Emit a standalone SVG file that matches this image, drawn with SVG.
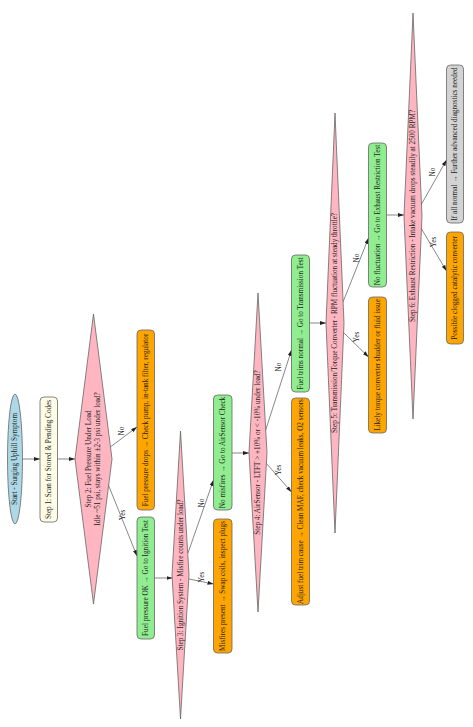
<svg xmlns="http://www.w3.org/2000/svg" width="473" height="727" viewBox="0 0 473 727">
<defs>
<marker id="arr" markerWidth="6" markerHeight="4" refX="6" refY="2" orient="auto" markerUnits="userSpaceOnUse"><path d="M0,0 L6,2 L0,4 Z" fill="#222"/></marker>
</defs>
<style>
text{font-family:"Liberation Serif","Times New Roman",serif;font-size:7.2px;fill:#222;text-anchor:middle;dominant-baseline:central}
.n{stroke:#666;stroke-width:0.8}
.start{fill:#add8e6}
.scan{fill:#fffde6}
.dec{fill:#ffb6c1}
.ok{fill:#90ee90}
.bad{fill:#ffa500}
.end{fill:#d3d3d3}
.e{stroke:#555;stroke-width:0.7;fill:none;marker-end:url(#arr)}
</style>
<rect width="473" height="727" fill="#fff"/>
<g id="connectors">
<path class="e" d="M22.5,459 L40,459"/>
<path class="e" d="M57.5,459 L75,459"/>
<path class="e" d="M109,448 L137,427"/>
<path class="e" d="M108,484 L137,556"/>
<path class="e" d="M154.5,578 L172.5,578"/>
<path class="e" d="M188,553 L213.5,480"/>
<path class="e" d="M189,579 L213.5,584"/>
<path class="e" d="M232,453 L249,453"/>
<path class="e" d="M265,432 L291.5,350"/>
<path class="e" d="M266,463 L291.5,492"/>
<path class="e" d="M309.5,323 L326,323"/>
<path class="e" d="M343,302 L368.5,238"/>
<path class="e" d="M343,332 L368.5,357"/>
<path class="e" d="M386.5,215 L404,215"/>
<path class="e" d="M421,205 L446.5,160"/>
<path class="e" d="M421,228 L446.5,271"/>
<text transform="translate(121.5,431) rotate(-90)">No</text>
<text transform="translate(122.5,515) rotate(-90)">Yes</text>
<text transform="translate(201.5,503) rotate(-90)">No</text>
<text transform="translate(201.5,577) rotate(-90)">Yes</text>
<text transform="translate(279,367) rotate(-90)">No</text>
<text transform="translate(279,470) rotate(-90)">Yes</text>
<text transform="translate(357,258) rotate(-90)">No</text>
<text transform="translate(357,337) rotate(-90)">Yes</text>
<text transform="translate(433,172) rotate(-90)">No</text>
<text transform="translate(434,242) rotate(-90)">Yes</text>
</g>
<g id="start"><ellipse class="n start" cx="15" cy="459" rx="7.5" ry="65"/><text transform="translate(15,459) rotate(-90)">Start - Surging Uphill Symptom</text></g>
<g id="step1"><rect class="n scan" x="40" y="397" width="17.5" height="125" rx="4"/><text transform="translate(48.75,459.5) rotate(-90)">Step 1: Scan for Stored &amp; Pending Codes</text></g>
<g id="step2"><polygon class="n dec" points="75,459 93.5,314 112,459 93.5,604"/><text transform="translate(89.3,459) rotate(-90)">Step 2: Fuel Pressure Under Load</text><text transform="translate(98.2,459) rotate(-90)">Idle ~51 psi, stays within ±2-3 psi under load?</text></g>
<g id="fuel_drop"><rect class="n bad" x="137" y="330" width="17.5" height="180" rx="4"/><text transform="translate(145.75,420) rotate(-90)">Fuel pressure drops → Check pump, in-tank filter, regulator</text></g>
<g id="fuel_ok"><rect class="n ok" x="137" y="517" width="17.5" height="122" rx="4"/><text transform="translate(145.75,578) rotate(-90)">Fuel pressure OK → Go to Ignition Test</text></g>
<g id="step3"><polygon class="n dec" points="172,575 180.5,431 189,575 180.5,719"/><text transform="translate(180.5,575) rotate(-90)">Step 3: Ignition System - Misfire counts under load?</text></g>
<g id="misfire"><rect class="n bad" x="213.5" y="519" width="18.5" height="134" rx="4"/><text transform="translate(222.75,586) rotate(-90)">Misfires present → Swap coils, inspect plugs</text></g>
<g id="no_misfire"><rect class="n ok" x="213.5" y="395" width="18.5" height="115" rx="4"/><text transform="translate(222.75,452.5) rotate(-90)">No misfires → Go to AirSensor Check</text></g>
<g id="step4"><polygon class="n dec" points="249,452.5 258,293 267,452.5 258,612"/><text transform="translate(258,452.5) rotate(-90)">Step 4: AirSensor - LTFT &gt; +10% or &lt; -10% under load?</text></g>
<g id="trims_ok"><rect class="n ok" x="291.5" y="255" width="18" height="137" rx="4"/><text transform="translate(300.5,323.5) rotate(-90)">Fuel trims normal → Go to Transmission Test</text></g>
<g id="adjust"><rect class="n bad" x="291.5" y="398" width="18" height="207" rx="4"/><text transform="translate(300.5,501.5) rotate(-90)">Adjust fuel trim cause → Clean MAF, check vacuum leaks, O2 sensors</text></g>
<g id="step5"><polygon class="n dec" points="326,323 335,113 344,323 335,533"/><text transform="translate(335,323) rotate(-90)">Step 5: Transmission/Torque Converter - RPM fluctuation at steady throttle?</text></g>
<g id="no_fluct"><rect class="n ok" x="368.5" y="143" width="18" height="144" rx="4"/><text transform="translate(377.5,215) rotate(-90)">No fluctuation → Go to Exhaust Restriction Test</text></g>
<g id="torque"><rect class="n bad" x="368.5" y="297" width="18" height="136" rx="4"/><text transform="translate(377.5,365) rotate(-90)">Likely torque converter shudder or fluid issue</text></g>
<g id="step6"><polygon class="n dec" points="404,216 413,13 422,216 413,419"/><text transform="translate(413,216) rotate(-90)">Step 6: Exhaust Restriction - Intake vacuum drops steadily at 2500 RPM?</text></g>
<g id="all_normal"><rect class="n end" x="446.5" y="65" width="17" height="158" rx="4"/><text transform="translate(455,144) rotate(-90)">If all normal → Further advanced diagnostics needed</text></g>
<g id="catalytic"><rect class="n bad" x="446.5" y="232" width="17" height="112" rx="4"/><text transform="translate(455,288) rotate(-90)">Possible clogged catalytic converter</text></g>
</svg>
